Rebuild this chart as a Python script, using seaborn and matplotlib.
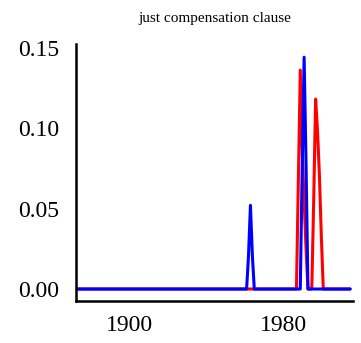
import numpy as np
import pandas as pd
import matplotlib
matplotlib.use("Agg")
import matplotlib.pyplot as plt
import seaborn as sns

# ---- data ----
first_year = 1873
last_year = 2015

red_peak_years = [1987, 1988, 1989, 1990, 1991, 1992, 1993,
                  1995, 1996, 1997, 1998, 1999, 2000, 2001]
red_peak_values = [0.0, 0.068, 0.136, 0.085, 0.055, 0.025, 0.0,
                   0.0, 0.055, 0.118, 0.098, 0.070, 0.032, 0.0]

blue_peak_years = [1961, 1962, 1963, 1964, 1965,
                   1989, 1990, 1991, 1992, 1993]
blue_peak_values = [0.0, 0.021, 0.052, 0.021, 0.0,
                    0.0, 0.075, 0.144, 0.078, 0.0]

series_names = ["red series", "blue series"]
series_colors = ["#ff0000", "#0000ff"]
title_text = "just compensation clause"
x_ticks = [1900, 1980]
y_ticks = [0.00, 0.05, 0.10, 0.15]
y_tick_labels = ["0.00", "0.05", "0.10", "0.15"]

# ---- build long table ----
years = np.arange(first_year, last_year + 1)
red = pd.Series(0.0, index=years)
red.loc[red_peak_years] = red_peak_values
blue = pd.Series(0.0, index=years)
blue.loc[blue_peak_years] = blue_peak_values

df = pd.concat([
    pd.DataFrame({"year": years, "value": red.values, "series": series_names[0]}),
    pd.DataFrame({"year": years, "value": blue.values, "series": series_names[1]}),
])

sns.set_style("white")
plt.rcParams["font.family"] = ["Liberation Serif", "DejaVu Serif"]

W, H = 361, 343
fig = plt.figure(figsize=(W / 100, H / 100), dpi=100)
ax = fig.add_axes([76 / W, (H - 301) / H, (353 - 76) / W, (301 - 44) / H])

sns.lineplot(data=df, x="year", y="value", hue="series",
             hue_order=series_names, palette=series_colors,
             linewidth=2.2, legend=False, ax=ax)

ax.set_xlim(1872, 2016.5)
ax.set_ylim(-0.00745, 0.1522)
ax.set_xticks(x_ticks)
ax.set_xticklabels([str(t) for t in x_ticks])
ax.set_yticks(y_ticks)
ax.set_yticklabels(y_tick_labels)
ax.set_xlabel("")
ax.set_ylabel("")

for side in ["top", "right"]:
    ax.spines[side].set_visible(False)
for side in ["left", "bottom"]:
    ax.spines[side].set_color("black")
    ax.spines[side].set_linewidth(1.8)

ax.tick_params(axis="both", direction="out", length=6, width=1.8,
               color="black", labelsize=17, labelcolor="black")
ax.tick_params(axis="x", pad=4)
ax.tick_params(axis="y", pad=6)

ax.set_title(title_text, fontsize=11, pad=16, color="black")

fig.savefig("out.png", dpi=100)
